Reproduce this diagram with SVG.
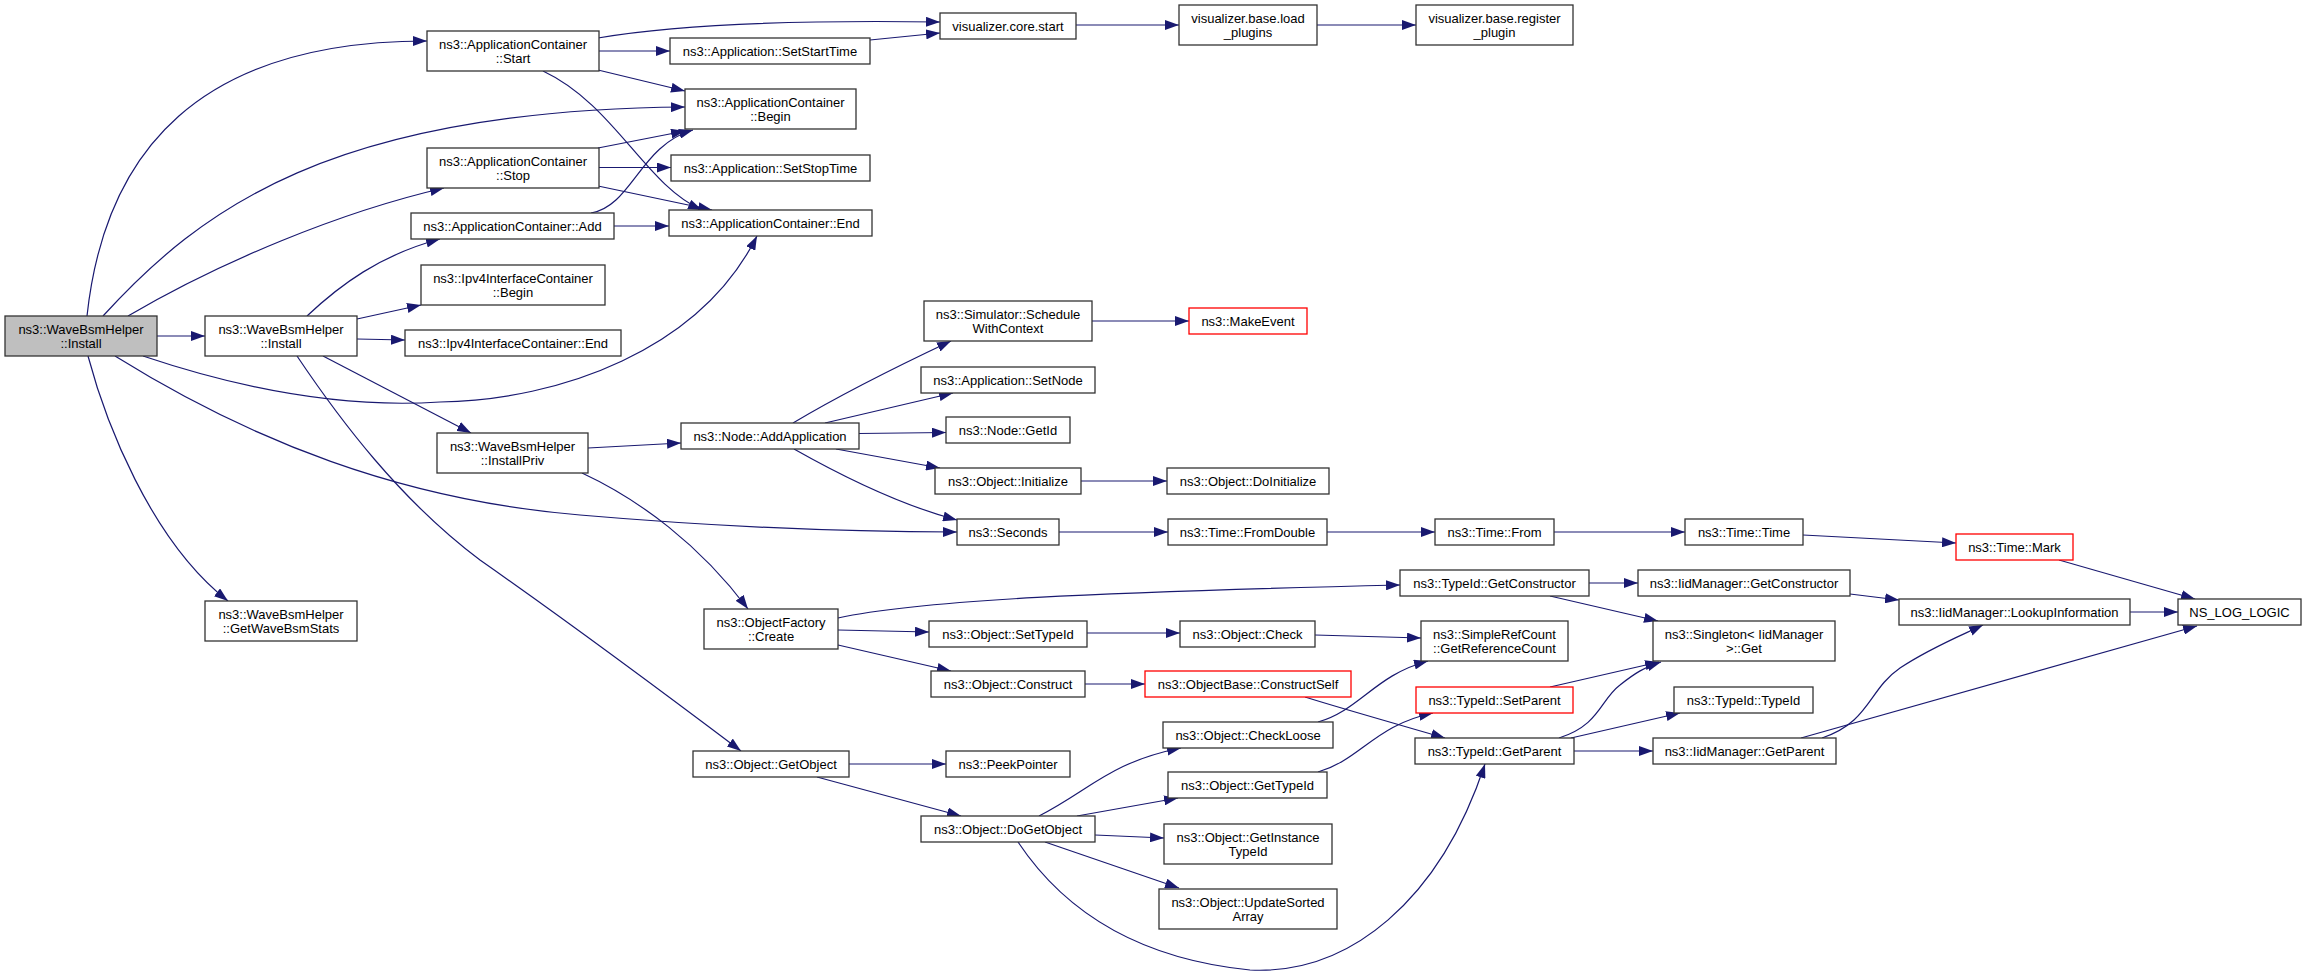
<svg xmlns="http://www.w3.org/2000/svg" width="2307" height="976" viewBox="0 0 2307 976">
<style>
.e{fill:none;stroke:#191970;stroke-width:1.2;marker-end:url(#ah)}
.n rect{fill:#fff;stroke:#333;stroke-width:1.3}
.root rect{fill:#bfbfbf}
.red rect{stroke:#ff0000}
text{font-family:"Liberation Sans",Helvetica,Arial,sans-serif;font-size:13px;fill:#000;text-anchor:middle}
</style>
<defs>
<marker id="ah" viewBox="0 0 14 10" refX="14" refY="5" markerWidth="14" markerHeight="10" markerUnits="userSpaceOnUse" orient="auto">
<path d="M0,0 L14,5 L0,10 Z" fill="#191970"/>
</marker>
</defs>
<rect width="2307" height="976" fill="#fff"/>
<g id="edges">
<path class="e" d="M87,316 C105,150 200,41 427,41"/>
<path class="e" d="M103,316 C200,210 330,110 685,107"/>
<path class="e" d="M128,316 C220,262 340,212 444,188"/>
<path class="e" d="M157,336 L205,336"/>
<path class="e" d="M143,356 C250,392 350,408 440,402 C560,400 700,350 757,236"/>
<path class="e" d="M115,356 C250,440 400,500 580,515 C720,527 850,532 957,532"/>
<path class="e" d="M88,356 C105,420 150,540 228,601"/>
<path class="e" d="M307,316 C340,285 380,255 440,239"/>
<path class="e" d="M357,319 L421,305"/>
<path class="e" d="M357,339 L405,340"/>
<path class="e" d="M323,356 L471,433"/>
<path class="e" d="M297,356 C340,420 400,500 480,560 C580,630 680,705 741,751"/>
<path class="e" d="M598,38 C680,24 800,20 940,22"/>
<path class="e" d="M599,51 L670,51"/>
<path class="e" d="M598,70 L685,91"/>
<path class="e" d="M543,71 C615,105 645,185 702,210"/>
<path class="e" d="M870,40 L940,33"/>
<path class="e" d="M598,148 L685,131"/>
<path class="e" d="M599,167.5 L671,167.5"/>
<path class="e" d="M598,186 L712,210"/>
<path class="e" d="M591,213 C632,206 640,145 693,130"/>
<path class="e" d="M614,226 L669,226"/>
<path class="e" d="M1076,25 L1179,25"/>
<path class="e" d="M1317,25 L1416,25"/>
<path class="e" d="M588,448 L681,443"/>
<path class="e" d="M582,473 C640,500 700,545 748,609"/>
<path class="e" d="M793,423 C840,395 900,365 951,341"/>
<path class="e" d="M825,423 L953,393"/>
<path class="e" d="M859,433.5 L946,432.5"/>
<path class="e" d="M836,449 L940,468"/>
<path class="e" d="M794,449 C840,475 900,505 957,520"/>
<path class="e" d="M1092,321 L1189,321"/>
<path class="e" d="M1081,481 L1167,481"/>
<path class="e" d="M1059,532 L1168,532"/>
<path class="e" d="M1327,532 L1435,532"/>
<path class="e" d="M1554,532 L1685,532"/>
<path class="e" d="M1803,535 L1956,543"/>
<path class="e" d="M2059,560 L2195,599"/>
<path class="e" d="M2130,612 L2178,612"/>
<path class="e" d="M1801,738 L2197,626"/>
<path class="e" d="M1822,738 C1870,722 1868,690 1900,668 C1930,648 1960,636 1983,625"/>
<path class="e" d="M1850,594 L1899,600"/>
<path class="e" d="M838,618 C920,600 1100,592 1400,585"/>
<path class="e" d="M838,630 L929,632"/>
<path class="e" d="M838,645 L951,671"/>
<path class="e" d="M1087,633 L1180,633"/>
<path class="e" d="M1315,635 L1421,638"/>
<path class="e" d="M1085,684 L1145,684"/>
<path class="e" d="M1305,697 C1340,708 1400,725 1445,738"/>
<path class="e" d="M1589,583 L1638,583"/>
<path class="e" d="M1550,596 L1658,621"/>
<path class="e" d="M1550,687 L1659,662"/>
<path class="e" d="M1559,738 C1600,725 1600,700 1620,685 C1635,673 1645,667 1661,662"/>
<path class="e" d="M1571,738 L1680,713"/>
<path class="e" d="M1574,751 L1653,751"/>
<path class="e" d="M849,764 L946,764"/>
<path class="e" d="M817,777 L961,816"/>
<path class="e" d="M1039,816 C1090,790 1110,762 1181,748"/>
<path class="e" d="M1077,816 L1178,798"/>
<path class="e" d="M1095,835 L1164,838"/>
<path class="e" d="M1045,842 L1179,888"/>
<path class="e" d="M1018,842 C1070,920 1150,960 1250,970 C1350,975 1440,900 1485,764"/>
<path class="e" d="M1318,722 C1360,710 1375,675 1428,661"/>
<path class="e" d="M1318,772 C1360,760 1375,725 1433,713"/>
</g>
<g id="nodes">
<g id="n0" class="n root"><rect x="5" y="316" width="152" height="40"/><text x="81" y="333.6">ns3::WaveBsmHelper</text><text x="81" y="347.6">::Install</text></g>
<g id="n1" class="n"><rect x="205" y="316" width="152" height="40"/><text x="281" y="333.6">ns3::WaveBsmHelper</text><text x="281" y="347.6">::Install</text></g>
<g id="n2" class="n"><rect x="205" y="601" width="152" height="40"/><text x="281" y="618.6">ns3::WaveBsmHelper</text><text x="281" y="632.6">::GetWaveBsmStats</text></g>
<g id="n3" class="n"><rect x="427" y="31" width="172" height="40"/><text x="513" y="48.6">ns3::ApplicationContainer</text><text x="513" y="62.6">::Start</text></g>
<g id="n4" class="n"><rect x="427" y="148" width="172" height="40"/><text x="513" y="165.6">ns3::ApplicationContainer</text><text x="513" y="179.6">::Stop</text></g>
<g id="n5" class="n"><rect x="411" y="213" width="203" height="26"/><text x="512.5" y="230.6">ns3::ApplicationContainer::Add</text></g>
<g id="n6" class="n"><rect x="421" y="265" width="184" height="40"/><text x="513" y="282.6">ns3::Ipv4InterfaceContainer</text><text x="513" y="296.6">::Begin</text></g>
<g id="n7" class="n"><rect x="405" y="330" width="216" height="26"/><text x="513" y="347.6">ns3::Ipv4InterfaceContainer::End</text></g>
<g id="n8" class="n"><rect x="437" y="433" width="151" height="40"/><text x="512.5" y="450.6">ns3::WaveBsmHelper</text><text x="512.5" y="464.6">::InstallPriv</text></g>
<g id="n9" class="n"><rect x="670" y="38" width="200" height="26"/><text x="770" y="55.6">ns3::Application::SetStartTime</text></g>
<g id="n10" class="n"><rect x="685" y="89" width="171" height="40"/><text x="770.5" y="106.6">ns3::ApplicationContainer</text><text x="770.5" y="120.6">::Begin</text></g>
<g id="n11" class="n"><rect x="671" y="155" width="199" height="26"/><text x="770.5" y="172.6">ns3::Application::SetStopTime</text></g>
<g id="n12" class="n"><rect x="669" y="210" width="203" height="26"/><text x="770.5" y="227.6">ns3::ApplicationContainer::End</text></g>
<g id="n13" class="n"><rect x="681" y="423" width="178" height="26"/><text x="770" y="440.6">ns3::Node::AddApplication</text></g>
<g id="n14" class="n"><rect x="704" y="609" width="134" height="40"/><text x="771" y="626.6">ns3::ObjectFactory</text><text x="771" y="640.6">::Create</text></g>
<g id="n15" class="n"><rect x="693" y="751" width="156" height="26"/><text x="771" y="768.6">ns3::Object::GetObject</text></g>
<g id="n16" class="n"><rect x="940" y="13" width="136" height="26"/><text x="1008" y="30.6">visualizer.core.start</text></g>
<g id="n17" class="n"><rect x="924" y="301" width="168" height="40"/><text x="1008" y="318.6">ns3::Simulator::Schedule</text><text x="1008" y="332.6">WithContext</text></g>
<g id="n18" class="n"><rect x="921" y="367" width="174" height="26"/><text x="1008" y="384.6">ns3::Application::SetNode</text></g>
<g id="n19" class="n"><rect x="946" y="417" width="124" height="26"/><text x="1008" y="434.6">ns3::Node::GetId</text></g>
<g id="n20" class="n"><rect x="935" y="468" width="146" height="26"/><text x="1008" y="485.6">ns3::Object::Initialize</text></g>
<g id="n21" class="n"><rect x="957" y="519" width="102" height="26"/><text x="1008" y="536.6">ns3::Seconds</text></g>
<g id="n22" class="n"><rect x="929" y="621" width="158" height="26"/><text x="1008" y="638.6">ns3::Object::SetTypeId</text></g>
<g id="n23" class="n"><rect x="931" y="671" width="154" height="26"/><text x="1008" y="688.6">ns3::Object::Construct</text></g>
<g id="n24" class="n"><rect x="946" y="751" width="124" height="26"/><text x="1008" y="768.6">ns3::PeekPointer</text></g>
<g id="n25" class="n"><rect x="921" y="816" width="174" height="26"/><text x="1008" y="833.6">ns3::Object::DoGetObject</text></g>
<g id="n26" class="n"><rect x="1179" y="5" width="138" height="40"/><text x="1248" y="22.6">visualizer.base.load</text><text x="1248" y="36.6">_plugins</text></g>
<g id="n27" class="n red"><rect x="1189" y="308" width="118" height="26"/><text x="1248" y="325.6">ns3::MakeEvent</text></g>
<g id="n28" class="n"><rect x="1167" y="468" width="162" height="26"/><text x="1248" y="485.6">ns3::Object::DoInitialize</text></g>
<g id="n29" class="n"><rect x="1168" y="519" width="159" height="26"/><text x="1247.5" y="536.6">ns3::Time::FromDouble</text></g>
<g id="n30" class="n"><rect x="1180" y="621" width="135" height="26"/><text x="1247.5" y="638.6">ns3::Object::Check</text></g>
<g id="n31" class="n red"><rect x="1145" y="671" width="206" height="26"/><text x="1248" y="688.6">ns3::ObjectBase::ConstructSelf</text></g>
<g id="n32" class="n"><rect x="1163" y="722" width="170" height="26"/><text x="1248" y="739.6">ns3::Object::CheckLoose</text></g>
<g id="n33" class="n"><rect x="1168" y="772" width="159" height="26"/><text x="1247.5" y="789.6">ns3::Object::GetTypeId</text></g>
<g id="n34" class="n"><rect x="1164" y="824" width="168" height="40"/><text x="1248" y="841.6">ns3::Object::GetInstance</text><text x="1248" y="855.6">TypeId</text></g>
<g id="n35" class="n"><rect x="1159" y="889" width="178" height="40"/><text x="1248" y="906.6">ns3::Object::UpdateSorted</text><text x="1248" y="920.6">Array</text></g>
<g id="n36" class="n"><rect x="1416" y="5" width="157" height="40"/><text x="1494.5" y="22.6">visualizer.base.register</text><text x="1494.5" y="36.6">_plugin</text></g>
<g id="n37" class="n"><rect x="1435" y="519" width="119" height="26"/><text x="1494.5" y="536.6">ns3::Time::From</text></g>
<g id="n38" class="n"><rect x="1400" y="570" width="189" height="26"/><text x="1494.5" y="587.6">ns3::TypeId::GetConstructor</text></g>
<g id="n39" class="n"><rect x="1421" y="621" width="147" height="40"/><text x="1494.5" y="638.6">ns3::SimpleRefCount</text><text x="1494.5" y="652.6">::GetReferenceCount</text></g>
<g id="n40" class="n red"><rect x="1416" y="687" width="157" height="26"/><text x="1494.5" y="704.6">ns3::TypeId::SetParent</text></g>
<g id="n41" class="n"><rect x="1415" y="738" width="159" height="26"/><text x="1494.5" y="755.6">ns3::TypeId::GetParent</text></g>
<g id="n42" class="n"><rect x="1685" y="519" width="118" height="26"/><text x="1744" y="536.6">ns3::Time::Time</text></g>
<g id="n43" class="n"><rect x="1638" y="570" width="212" height="26"/><text x="1744" y="587.6">ns3::IidManager::GetConstructor</text></g>
<g id="n44" class="n"><rect x="1653" y="621" width="182" height="40"/><text x="1744" y="638.6">ns3::Singleton&lt; IidManager</text><text x="1744" y="652.6">&gt;::Get</text></g>
<g id="n45" class="n"><rect x="1674" y="687" width="139" height="26"/><text x="1743.5" y="704.6">ns3::TypeId::TypeId</text></g>
<g id="n46" class="n"><rect x="1653" y="738" width="183" height="26"/><text x="1744.5" y="755.6">ns3::IidManager::GetParent</text></g>
<g id="n47" class="n red"><rect x="1956" y="534" width="117" height="26"/><text x="2014.5" y="551.6">ns3::Time::Mark</text></g>
<g id="n48" class="n"><rect x="1899" y="599" width="231" height="26"/><text x="2014.5" y="616.6">ns3::IidManager::LookupInformation</text></g>
<g id="n49" class="n"><rect x="2178" y="599" width="123" height="26"/><text x="2239.5" y="616.6">NS_LOG_LOGIC</text></g>
</g>
</svg>
